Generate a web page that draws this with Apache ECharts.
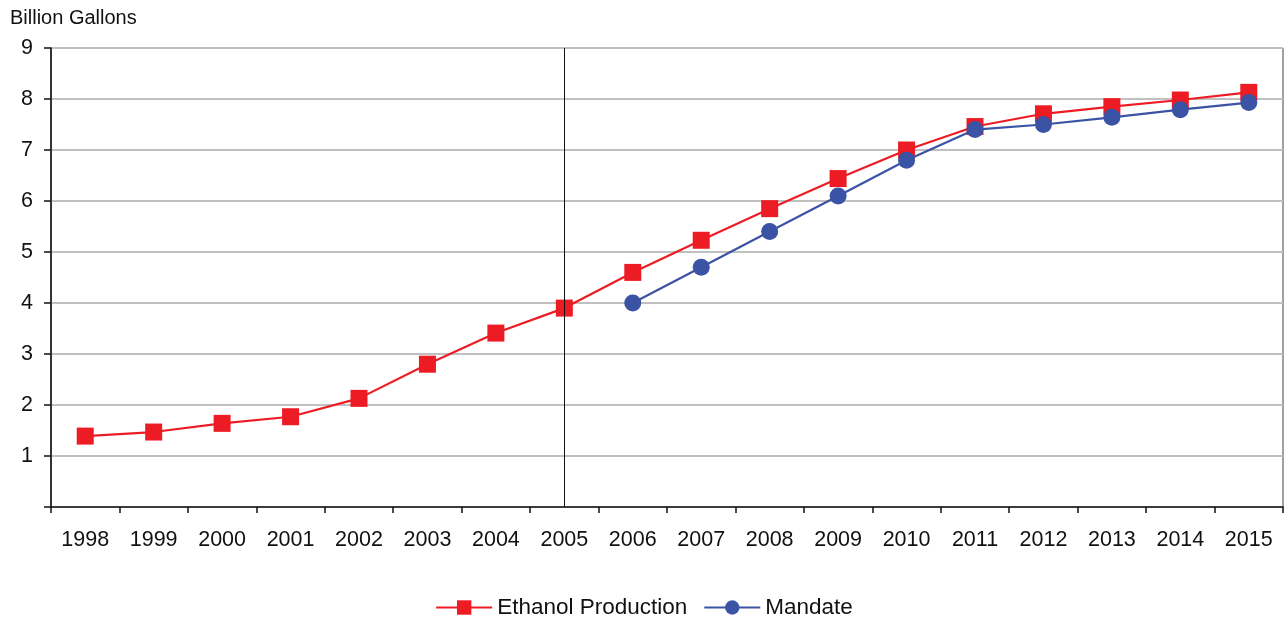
<!DOCTYPE html>
<html>
<head>
<meta charset="utf-8">
<script src="https://cdn.jsdelivr.net/npm/echarts@6/dist/echarts.min.js"></script>
<style>html,body{margin:0;padding:0;background:#fff;}#c{width:1288px;height:622px;}</style>
</head>
<body>
<div id="c"></div>
<script>
var years = ['1998','1999','2000','2001','2002','2003','2004','2005','2006','2007','2008','2009','2010','2011','2012','2013','2014','2015'];
var ethanolProduction = [1.39, 1.47, 1.64, 1.77, 2.13, 2.80, 3.41, 3.90, 4.60, 5.23, 5.85, 6.44, 7.00, 7.46, 7.71, 7.85, 7.98, 8.13];
var mandate = [null, null, null, null, null, null, null, null, 4.0, 4.7, 5.4, 6.1, 6.8, 7.4, 7.5, 7.64, 7.79, 7.93];
var yTicks = [0, 1, 2, 3, 4, 5, 6, 7, 8, 9];

var FF = 'Liberation Sans, Arial, sans-serif';
var chart = echarts.init(document.getElementById('c'));
chart.setOption({
  animation: false,
  textStyle: { fontFamily: FF },
  title: {
    text: 'Billion Gallons', left: 5, top: 3,
    textStyle: { fontSize: 20, fontWeight: 'normal', color: '#111', fontFamily: FF }
  },
  grid: { left: 51, right: 5, top: 48, bottom: 115, show: true, borderColor: '#444', borderWidth: 1, backgroundColor: 'transparent' },
  legend: {
    top: 591, left: 'center', itemWidth: 56, itemHeight: 18, itemGap: 16,
    textStyle: { fontSize: 22.5, color: '#111', fontFamily: FF },
    data: ['Ethanol Production', 'Mandate']
  },
  xAxis: {
    type: 'category', data: years, boundaryGap: true,
    axisLine: { lineStyle: { color: '#111', width: 1.5 } },
    axisTick: { show: true, length: 6, alignWithLabel: false, lineStyle: { color: '#111', width: 1.5 } },
    axisLabel: { fontSize: 21.5, color: '#111', margin: 22, interval: 0 }
  },
  yAxis: {
    type: 'value', min: 0, max: 9, interval: 1,
    axisLine: { show: true, lineStyle: { color: '#111', width: 1.5 } },
    axisTick: { show: true, length: 7, lineStyle: { color: '#111', width: 1.5 } },
    axisLabel: { fontSize: 21.5, color: '#111', margin: 18, formatter: function (v) { return v === 0 ? '' : String(v); } },
    splitLine: { show: true, lineStyle: { color: '#c0c0c0', width: 2 } }
  },
  series: [
    {
      name: 'Ethanol Production', type: 'line', data: ethanolProduction,
      symbol: 'rect', symbolSize: 17, z: 3,
      itemStyle: { color: '#ed1c24' },
      lineStyle: { color: '#ed1c24', width: 2.2 },
      markLine: {
        silent: true, symbol: ['none', 'none'], label: { show: false },
        lineStyle: { color: '#111', width: 1, type: 'solid' },
        data: [{ xAxis: '2005' }]
      }
    },
    {
      name: 'Mandate', type: 'line', data: mandate,
      symbol: 'circle', symbolSize: 17, z: 4,
      itemStyle: { color: '#3a53a4' },
      lineStyle: { color: '#3a53a4', width: 2.2 }
    }
  ]
});
</script>
</body>
</html>
